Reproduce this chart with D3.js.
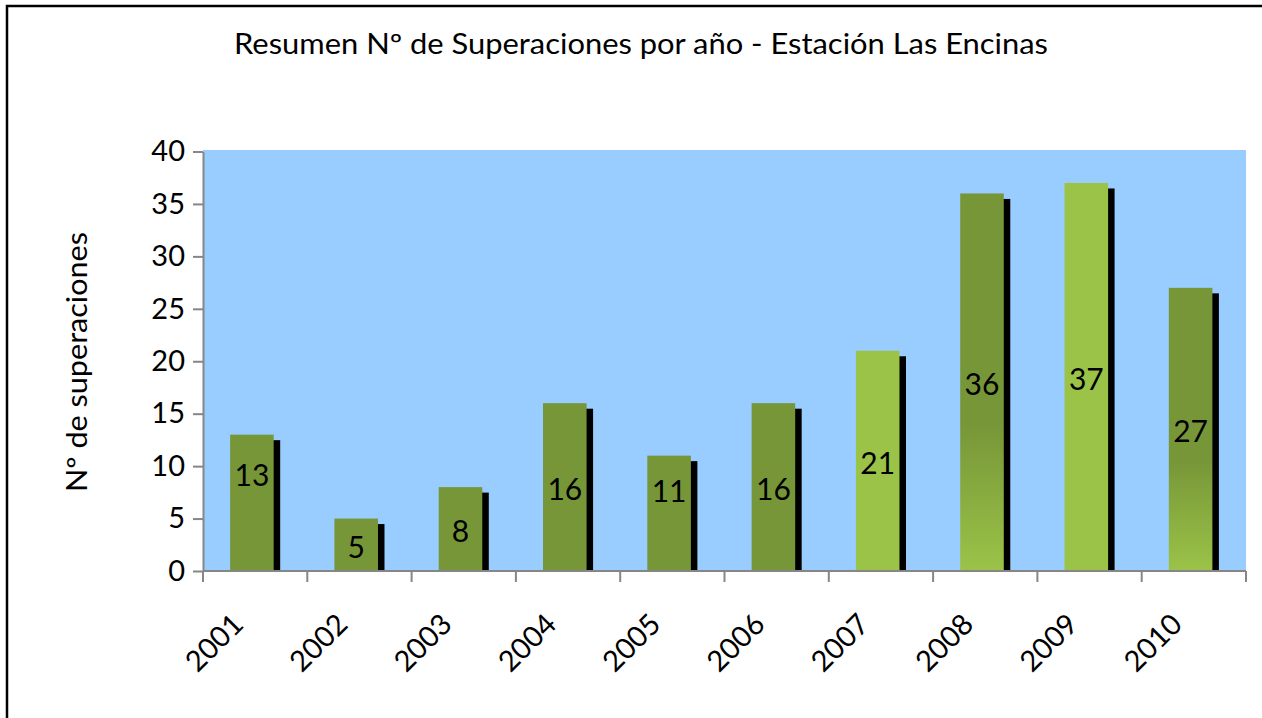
<!DOCTYPE html>
<html>
<head>
<meta charset="utf-8">
<script src="https://cdn.jsdelivr.net/npm/d3@7"></script>
<style>
  html, body { margin: 0; padding: 0; background: #ffffff; }
  svg { display: block; }
  text { font-family: Lato, "Open Sans", sans-serif; fill: #000; }
</style>
</head>
<body>
<svg id="chart" width="1262" height="718"></svg>
<script>
// ---- data ----
const years = ["2001","2002","2003","2004","2005","2006","2007","2008","2009","2010"];
const superaciones = [13, 5, 8, 16, 11, 16, 21, 36, 37, 27];
const yTicks = [0, 5, 10, 15, 20, 25, 30, 35, 40];
const titleText = "Resumen Nº de Superaciones por año - Estación Las Encinas";
const yTitleText = "Nº de superaciones";

// ---- styles (kept apart from data) ----
const fillKind = ["dark","dark","dark","dark","dark","dark","light","grad","light","grad"];
const labelNudge = [-30, 0, 0, 0, -24, 0, 0, 0, 0, 0];

const W = 1262, H = 718;
const plot = { left: 203, right: 1246, top: 150, bottom: 571 };
const DARK = "#779638", LIGHT = "#9bc348", BG = "#99ccff", AXIS = "#868686";

const svg = d3.select("#chart");

// outer border (runs past right/bottom edges)
svg.append("rect")
  .attr("x", 7).attr("y", 6)
  .attr("width", W + 20).attr("height", H + 20)
  .attr("fill", "#fff").attr("stroke", "#000").attr("stroke-width", 2.5);

const defs = svg.append("defs");
const grad = defs.append("linearGradient")
  .attr("id", "gradBar").attr("x1", 0).attr("y1", 0).attr("x2", 0).attr("y2", 1);
grad.append("stop").attr("offset", "0%").attr("stop-color", DARK);
grad.append("stop").attr("offset", "61%").attr("stop-color", DARK);
grad.append("stop").attr("offset", "100%").attr("stop-color", LIGHT);

const x = d3.scaleBand().domain(years)
  .range([plot.left, plot.right]).paddingInner(0.52).paddingOuter(0.26);
const y = d3.scaleLinear().domain([0, 40]).range([plot.bottom, 151.5]);

// plot background
svg.append("rect")
  .attr("x", plot.left).attr("y", plot.top)
  .attr("width", plot.right - plot.left).attr("height", plot.bottom - plot.top)
  .attr("fill", BG);

const data = years.map((yr, i) => ({ yr, v: superaciones[i], kind: fillKind[i], nudge: labelNudge[i] }));
const SH = 6.5; // shadow offset
const bw = x.bandwidth() - SH;

// shadows
svg.append("g").selectAll("rect").data(data).join("rect")
  .attr("x", d => x(d.yr) + SH)
  .attr("y", d => y(d.v) + 5.5)
  .attr("width", bw)
  .attr("height", d => plot.bottom - y(d.v) - 5.5)
  .attr("fill", "#000");

// bars
svg.append("g").selectAll("rect").data(data).join("rect")
  .attr("x", d => x(d.yr))
  .attr("y", d => y(d.v))
  .attr("width", bw)
  .attr("height", d => plot.bottom - y(d.v))
  .attr("fill", d => d.kind === "dark" ? DARK : d.kind === "light" ? LIGHT : "url(#gradBar)");

// value labels
svg.append("g").selectAll("text").data(data).join("text")
  .attr("x", d => x(d.yr) + bw / 2)
  .attr("y", d => (y(d.v) + plot.bottom) / 2 + 2 + d.nudge)
  .attr("dy", "0.36em")
  .attr("text-anchor", "middle")
  .attr("font-size", 30)
  .text(d => d.v);

// y axis
const yAxis = d3.axisLeft(y).tickValues(yTicks).tickSize(10).tickSizeOuter(0).tickPadding(8);
const gy = svg.append("g").attr("transform", `translate(${plot.left},0)`).call(yAxis);
gy.select(".domain").attr("stroke", AXIS).attr("stroke-width", 2);
gy.selectAll(".tick line").attr("stroke", AXIS).attr("stroke-width", 2);
gy.selectAll(".tick text").attr("font-size", 29).attr("font-family", "Lato, sans-serif").attr("fill", "#000");

// x axis (ticks at category boundaries)
const gx = svg.append("g");
gx.append("line")
  .attr("x1", plot.left).attr("x2", plot.right)
  .attr("y1", plot.bottom).attr("y2", plot.bottom)
  .attr("stroke", AXIS).attr("stroke-width", 2);
gx.selectAll("line.tk").data(d3.range(years.length + 1)).join("line")
  .attr("class", "tk")
  .attr("x1", i => i < years.length ? x(years[i]) - x.step() * x.paddingInner() / 2 : plot.right)
  .attr("x2", i => i < years.length ? x(years[i]) - x.step() * x.paddingInner() / 2 : plot.right)
  .attr("y1", plot.bottom).attr("y2", plot.bottom + 11)
  .attr("stroke", AXIS).attr("stroke-width", 2);

gx.selectAll("text").data(years).join("text")
  .attr("transform", d => `translate(${x(d) + x.bandwidth() / 2 - 10},626) rotate(-45)`)
  .attr("text-anchor", "end")
  .attr("font-size", 29)
  .text(d => d);

// title
svg.append("text")
  .attr("x", 641).attr("y", 54)
  .attr("text-anchor", "middle")
  .attr("font-size", 28)
  .attr("textLength", 814).attr("lengthAdjust", "spacingAndGlyphs")
  .text(titleText);

// y axis title
svg.append("text")
  .attr("transform", "translate(87,362) rotate(-90)")
  .attr("text-anchor", "middle")
  .attr("font-size", 28)
  .attr("textLength", 260).attr("lengthAdjust", "spacingAndGlyphs")
  .text(yTitleText);
</script>
</body>
</html>
